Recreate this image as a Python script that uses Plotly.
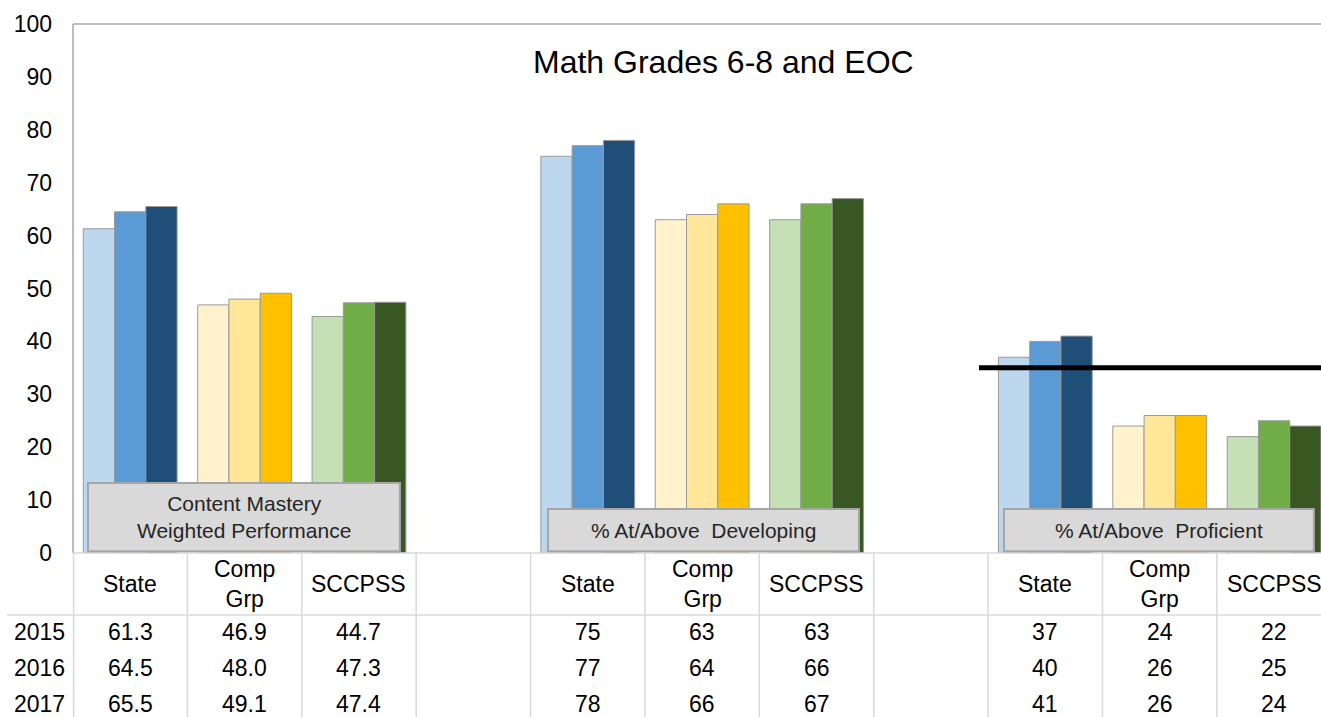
import plotly.graph_objects as go

# ---- data ----
years = ["2015", "2016", "2017"]
columns = ["State", "Comp<br>Grp", "SCCPSS", "",
           "State", "Comp<br>Grp", "SCCPSS", "",
           "State", "Comp<br>Grp", "SCCPSS", ""]
bar_x = [0, 1, 2, 4, 5, 6, 8, 9, 10]
vals_2015 = [61.3, 46.9, 44.7, 75, 63, 63, 37, 24, 22]
vals_2016 = [64.5, 48.0, 47.3, 77, 64, 66, 40, 26, 25]
vals_2017 = [65.5, 49.1, 47.4, 78, 66, 67, 41, 26, 24]
decimals = [1, 1, 1, 0, 0, 0, 0, 0, 0]
group_labels = ["Content Mastery<br>Weighted Performance",
                "% At/Above  Developing",
                "% At/Above  Proficient"]
target_value = 35
title_text = "Math Grades 6-8 and EOC"

# ---- styles ----
FONT = "Arial, 'Liberation Sans', sans-serif"
col_state = ["#BDD7EE", "#5B9BD5", "#1F4E79"]
col_comp = ["#FFF2CC", "#FFE699", "#FFC000"]
col_sccpss = ["#C5E0B4", "#70AD47", "#385723"]
palettes = [col_state, col_comp, col_sccpss] * 3

series = [vals_2015, vals_2016, vals_2017]

fig = go.Figure()
for yi, (yr, vals) in enumerate(zip(years, series)):
    fig.add_trace(go.Bar(
        x=bar_x, y=vals, name=yr,
        marker=dict(color=[p[yi] for p in palettes],
                    line=dict(color="#9A9A9A", width=1)),
        hoverinfo="x+y",
    ))

x_hi = 10.41
shapes = []
annotations = []

# plot area border (left and top)
shapes.append(dict(type="line", xref="paper", yref="paper", x0=0, x1=1, y0=1, y1=1,
                   line=dict(color="#A6A6A6", width=1.5)))
shapes.append(dict(type="line", xref="paper", yref="paper", x0=0, x1=0, y0=0, y1=1,
                   line=dict(color="#A6A6A6", width=1.5)))

# table grid
grid_col = "#D9D9D9"
table_bottom = -0.32
shapes.append(dict(type="line", xref="paper", yref="paper", x0=0, x1=1, y0=0, y1=0,
                   line=dict(color=grid_col, width=1.5)))
shapes.append(dict(type="line", xref="paper", yref="paper", x0=-0.053, x1=1,
                   y0=-0.1172, y1=-0.1172, line=dict(color=grid_col, width=1.5)))
shapes.append(dict(type="line", xref="paper", yref="paper", x0=0.0005, x1=0.0005,
                   y0=table_bottom, y1=0, line=dict(color=grid_col, width=1.5)))
for k in range(1, len(columns) + 1):
    shapes.append(dict(type="line", xref="x", yref="paper", x0=k - 0.5, x1=k - 0.5,
                       y0=table_bottom, y1=0, line=dict(color=grid_col, width=1.5)))

TABLE_FS = 23
# category header text
for i, c in enumerate(columns):
    if c:
        annotations.append(dict(x=i, y=-0.0586, xref="x", yref="paper", text=c,
                                showarrow=False, xanchor="center", yanchor="middle",
                                font=dict(size=TABLE_FS, family=FONT, color="#000000")))

# table values
row_y = [-0.1493, -0.2174, -0.2854]
for ri, (yr, vals) in enumerate(zip(years, series)):
    annotations.append(dict(x=-0.0272, y=row_y[ri], xref="paper", yref="paper", text=yr,
                            showarrow=False, xanchor="center", yanchor="middle",
                            font=dict(size=TABLE_FS, family=FONT, color="#000000")))
    for xi, v, d in zip(bar_x, vals, decimals):
        annotations.append(dict(x=xi, y=row_y[ri], xref="x", yref="paper",
                                text=f"{v:.{d}f}", showarrow=False,
                                xanchor="center", yanchor="middle",
                                font=dict(size=TABLE_FS, family=FONT, color="#000000")))

# group label boxes
boxes = [(-0.369, 2.358, 13.23), (3.652, 6.371, 8.32), (7.638, 10.348, 8.32)]
for (x0, x1, ytop), lab in zip(boxes, group_labels):
    shapes.append(dict(type="rect", xref="x", yref="y", x0=x0, x1=x1, y0=0.35, y1=ytop,
                       fillcolor="#D9D9D9", line=dict(color="#A6A6A6", width=2),
                       layer="above"))
    annotations.append(dict(x=(x0 + x1) / 2, y=(0.35 + ytop) / 2, xref="x", yref="y",
                            text=lab, showarrow=False, xanchor="center", yanchor="middle",
                            font=dict(size=21, family=FONT, color="#262626")))

# target line
shapes.append(dict(type="line", xref="x", yref="y", x0=7.42, x1=11, y0=target_value,
                   y1=target_value, line=dict(color="#000000", width=5), layer="above"))

# title
annotations.append(dict(x=0.5216, y=0.928, xref="paper", yref="paper", text=title_text,
                        showarrow=False, xanchor="center", yanchor="middle",
                        font=dict(size=32, family=FONT, color="#000000")))

fig.update_layout(
    width=1321, height=717,
    margin=dict(l=73, r=0, t=24, b=164),
    paper_bgcolor="white", plot_bgcolor="white",
    barmode="group", bargap=0.18, bargroupgap=0,
    showlegend=False,
    shapes=shapes, annotations=annotations,
    xaxis=dict(range=[-0.5, x_hi], showticklabels=False, showgrid=False,
               zeroline=False, showline=False, ticks=""),
    yaxis=dict(range=[0, 100], dtick=10, showgrid=False, zeroline=False,
               showline=False, ticks="", ticklabelstandoff=20,
               tickfont=dict(size=23, family=FONT, color="#000000")),
)

fig.write_html("out.html", config={"displayModeBar": False},
               post_script="document.body.style.margin='0';document.body.style.overflow='hidden';")
